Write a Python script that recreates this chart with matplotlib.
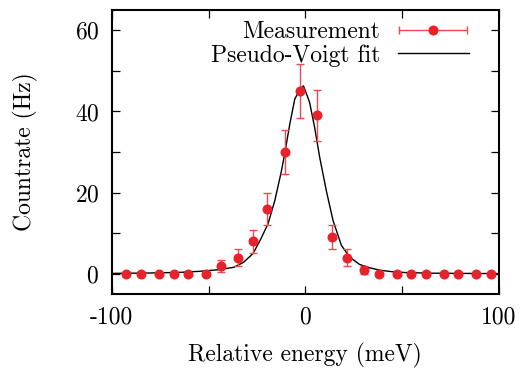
import numpy as np
import matplotlib
matplotlib.use("Agg")
import matplotlib.pyplot as plt
from matplotlib.legend_handler import HandlerErrorbar

energy = [-92.4, -84.9, -75.8, -68.0, -60.5, -51.5, -43.8, -34.7, -27.1, -19.6,
          -10.3, -2.9, 6.2, 13.9, 21.3, 30.4, 38.1, 47.3, 54.8, 62.5,
          71.5, 79.0, 88.1, 95.9]
rate = [0, 0, 0, 0, 0, 0, 2, 4, 8, 16,
        30, 45, 39, 9, 4, 1, 0, 0, 0, 0,
        0, 0, 0, 0]
rate_err = [0, 0, 0, 0, 0, 0, 1.5, 2, 2.8, 4,
            5.5, 6.7, 6.2, 3, 2, 1, 0, 0, 0, 0,
            0, 0, 0, 0]

# pseudo-Voigt fit curve, sampled off the figure
fit_x = [-100, -80, -65, -55, -45, -37, -32, -27, -23, -19.3,
         -15.8, -12.5, -10.7, -8.0, -5.5, -3.0, -1.0, 1.0, 2.2, 4.8,
         7.4, 10.8, 14.3, 18.6, 22.9, 28, 33, 38.4, 45, 52,
         65, 80, 100]
fit_y = [0.1, 0.2, 0.35, 0.6, 1.0, 1.6, 2.8, 5.0, 8.6, 12.3,
         18, 25, 29.5, 37, 43, 45.3, 46.3, 43.8, 42.2, 36,
         28.7, 20.5, 13.1, 7.0, 4.1, 2.3, 1.5, 0.9, 0.5, 0.3,
         0.15, 0.1, 0.05]

plt.rcParams['font.family'] = ['cmr10', 'DejaVu Serif']
plt.rcParams['axes.formatter.use_mathtext'] = True

red = '#e8222a'
bar_red = '#ec4a4f'
fs = 17

fig = plt.figure(figsize=(5.22, 3.69), dpi=100)
ax = fig.add_axes([0.214, 0.203, 0.742, 0.770])

ax.plot(fit_x, fit_y, color='black', lw=1.0, zorder=2)
ax.errorbar(energy, rate, yerr=rate_err, fmt='o', color=red, ms=6.2,
            ecolor=bar_red, elinewidth=1.0, capsize=3, capthick=1.0, zorder=3)

# legend handles: horizontal error bar sample like gnuplot
h_meas = ax.errorbar([np.nan], [np.nan], xerr=[1], fmt='o', color=red, ms=6.2,
                     ecolor=bar_red, elinewidth=1.0, capsize=3, capthick=1.0)
h_fit, = ax.plot([np.nan], [np.nan], color='black', lw=1.0)
leg = ax.legend([h_meas, h_fit], ['Measurement', 'Pseudo-Voigt fit'],
                loc='upper right', bbox_to_anchor=(0.946, 0.995),
                frameon=False, markerfirst=False, fontsize=fs,
                handlelength=3.0, handletextpad=0.75, labelspacing=0.05,
                borderaxespad=0.0,
                handler_map={type(h_meas): HandlerErrorbar(xerr_size=1.45)})
for t in leg.get_texts():
    t.set_ha('right')

ax.set_xlim(-100, 100)
ax.set_ylim(-5, 65)
ax.set_xticks([-100, 0, 100])
ax.set_xticklabels(['-100', '0', '100'])
ax.set_xticks([-50, 50], minor=True)
ax.set_yticks([0, 20, 40, 60])
ax.set_yticks([10, 30, 50], minor=True)
ax.tick_params(which='both', direction='in', top=True, right=True,
               length=6, width=0.9, labelsize=fs, pad=9)
for s in ax.spines.values():
    s.set_linewidth(1.5)

ax.set_xlabel('Relative energy (meV)', fontsize=fs, labelpad=10)
ax.set_ylabel('Countrate (Hz)', fontsize=fs, labelpad=26)

fig.savefig('out.png', dpi=100)
